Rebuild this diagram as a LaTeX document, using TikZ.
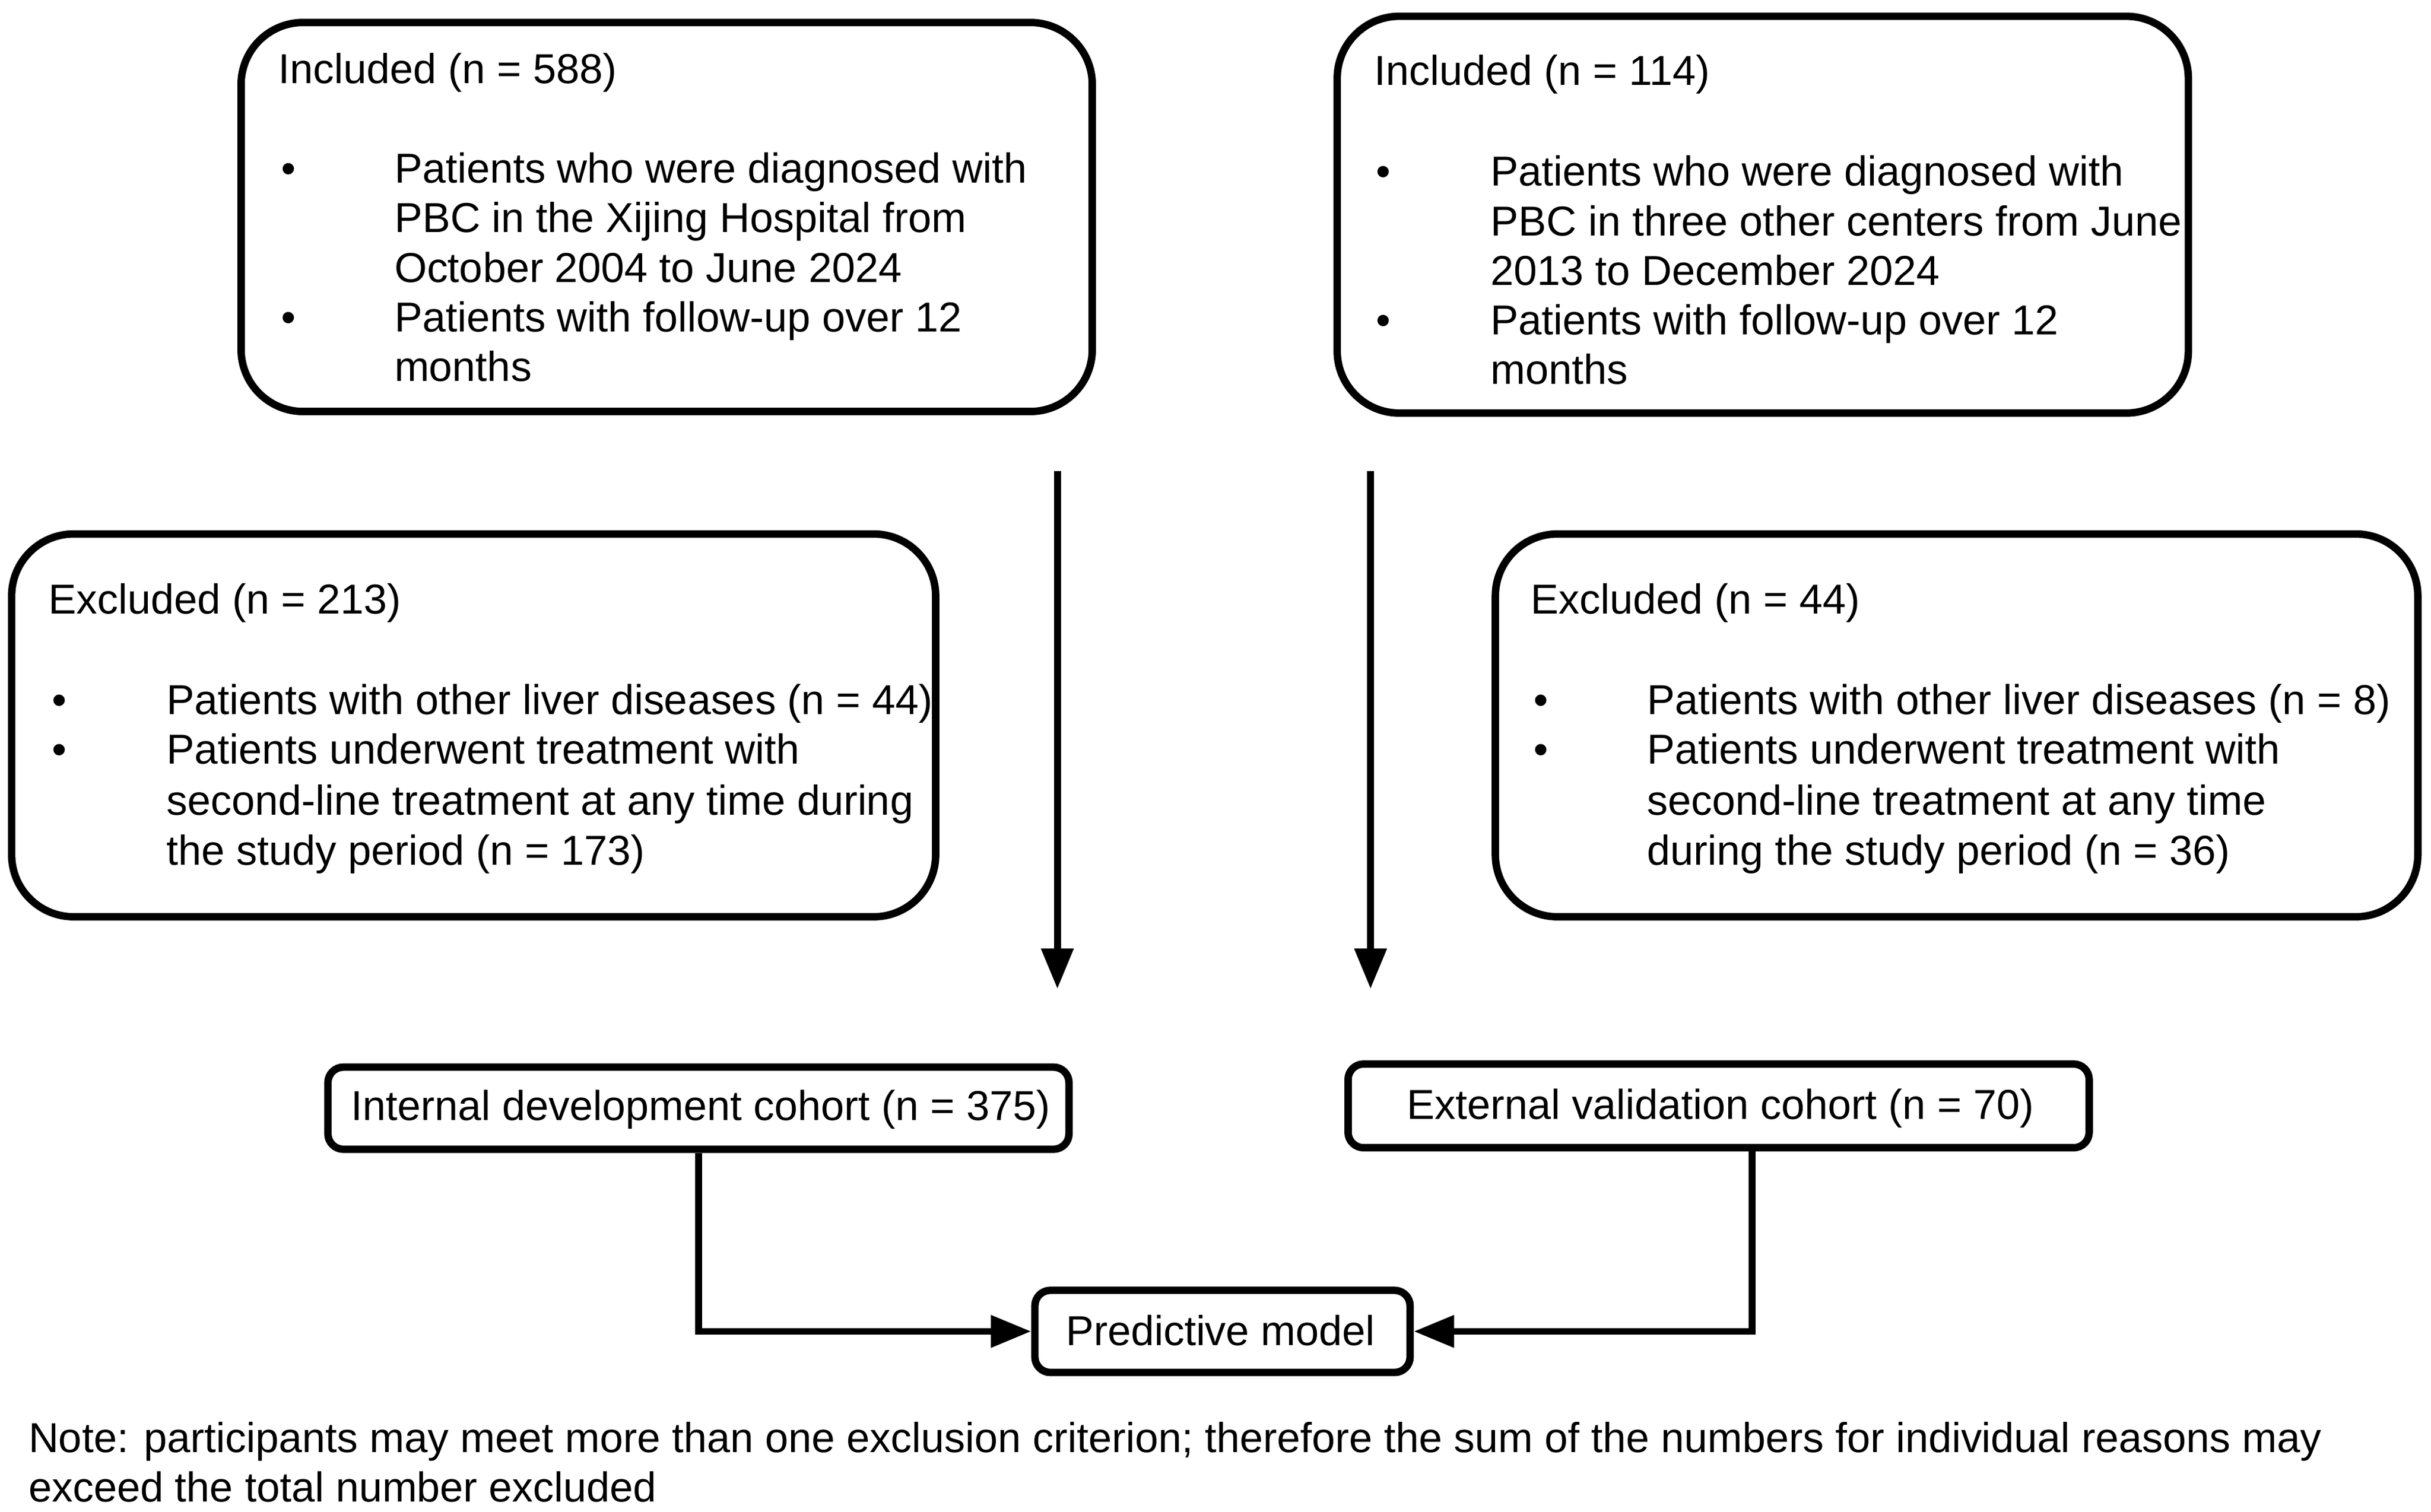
\documentclass[tikz,border=0pt]{standalone}
\usepackage{fontspec}
\setmainfont{Liberation Sans}
\usetikzlibrary{arrows.meta}
\begin{document}
\begin{tikzpicture}[x=0.5pt,y=-0.5pt,
  txt/.style={inner sep=0pt, anchor=base west, font=\fontsize{13.5}{16}\selectfont},
  bigbox/.style={draw, line width=2.4pt, rounded corners=20pt, inner sep=0pt},
  smallbox/.style={draw, line width=2.4pt, rounded corners=5pt, inner sep=0pt},
  conn/.style={line width=2.2pt, -{Triangle[length=13pt,width=10pt]}}]
\useasboundingbox (0,0) rectangle (1568,975.2);
% boxes
\node[bigbox, minimum width=549*0.5pt, minimum height=251*0.5pt] (inc1) at (430,140) {};
\node[bigbox, minimum width=549*0.5pt, minimum height=256*0.5pt] (inc2) at (1137,138.5) {};
\node[bigbox, minimum width=596*0.5pt, minimum height=247*0.5pt] (exc1) at (305.5,468) {};
\node[bigbox, minimum width=595*0.5pt, minimum height=247*0.5pt] (exc2) at (1262,468) {};
\node[smallbox, minimum width=478*0.5pt, minimum height=53*0.5pt] (int) at (450.5,715) {};
\node[smallbox, minimum width=478*0.5pt, minimum height=54*0.5pt] (ext) at (1108.5,713.5) {};
\node[smallbox, minimum width=242*0.5pt, minimum height=53*0.5pt] (pred) at (788.5,859) {};
% box 1 text
\node[txt] (h1) at (179,54) {Included (n = 588)};
\node[txt] (b1a) at (181,118) {\textbullet};
\node[txt] (b1b) at (181,214) {\textbullet};
\node[txt] (l1a) at (254,118) {Patients who were diagnosed with};
\node[txt] (l1b) at (254,150) {PBC in the Xijing Hospital from};
\node[txt] (l1c) at (254,182) {October 2004 to June 2024};
\node[txt] (l1d) at (254,214) {Patients with follow-up over 12};
\node[txt] (l1e) at (254,246) {months};
% box 2 text
\node[txt] (h2) at (886,55) {Included (n = 114)};
\node[txt] (b2a) at (887,120) {\textbullet};
\node[txt] (b2b) at (887,216) {\textbullet};
\node[txt] (l2a) at (961,120) {Patients who were diagnosed with};
\node[txt] (l2b) at (961,152) {PBC in three other centers from June};
\node[txt] (l2c) at (961,184) {2013 to December 2024};
\node[txt] (l2d) at (961,216) {Patients with follow-up over 12};
\node[txt] (l2e) at (961,248) {months};
% box 3 text
\node[txt] (h3) at (31,396) {Excluded (n = 213)};
\node[txt] (b3a) at (33,461) {\textbullet};
\node[txt] (b3b) at (33,493) {\textbullet};
\node[txt] (l3a) at (107,461) {Patients with other liver diseases (n = 44)};
\node[txt] (l3b) at (107,493) {Patients underwent treatment with};
\node[txt] (l3c) at (107,526) {second-line treatment at any time during};
\node[txt] (l3d) at (107,558) {the study period (n = 173)};
% box 4 text
\node[txt] (h4) at (987,396) {Excluded (n = 44)};
\node[txt] (b4a) at (989,461) {\textbullet};
\node[txt] (b4b) at (989,493) {\textbullet};
\node[txt] (l4a) at (1062,461) {Patients with other liver diseases (n = 8)};
\node[txt] (l4b) at (1062,493) {Patients underwent treatment with};
\node[txt] (l4c) at (1062,526) {second-line treatment at any time};
\node[txt] (l4d) at (1062,558) {during the study period (n = 36)};
% cohort texts
\node[txt] (tint) at (226,723) {Internal development cohort (n = 375)};
\node[txt] (text) at (907,722) {External validation cohort (n = 70)};
\node[txt] (tpred) at (687,868) {Predictive model};
% note
\node[txt] (n1) at (18,937) {Note: participants may meet more than one exclusion criterion; therefore the sum of the numbers for individual reasons may};
\node[txt] (n2) at (18,969) {exceed the total number excluded};
% connectors
\coordinate (a1s) at (682,304);
\coordinate (a1e) at (682,638);
\coordinate (a2s) at (884,304);
\coordinate (a2e) at (884,638);
\coordinate (extdrop) at (1130,743);
\draw[conn] (a1s) -- (a1e);
\draw[conn] (a2s) -- (a2e);
\draw[conn] (int.south) |- (pred.west);
\draw[conn] (ext.south -| extdrop) |- (pred.east);
\end{tikzpicture}
\end{document}
